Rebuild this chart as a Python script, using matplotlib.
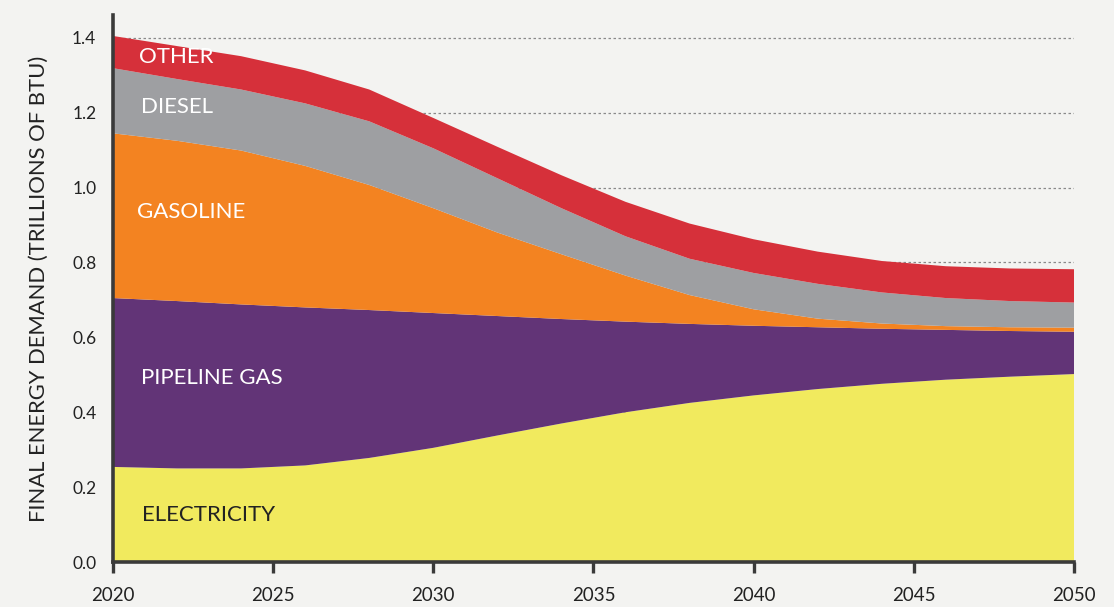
import numpy as np
import matplotlib
matplotlib.use("Agg")
import matplotlib.pyplot as plt

# values (trillions of BTU), one point every 2 years
years = [2020, 2022, 2024, 2026, 2028, 2030, 2032, 2034,
         2036, 2038, 2040, 2042, 2044, 2046, 2048, 2050]
electricity = [0.254, 0.250, 0.250, 0.258, 0.278, 0.305, 0.338, 0.370,
               0.400, 0.425, 0.445, 0.462, 0.476, 0.487, 0.495, 0.502]
pipeline_gas = [0.451, 0.447, 0.438, 0.422, 0.395, 0.360, 0.319, 0.279,
                0.242, 0.211, 0.186, 0.165, 0.147, 0.133, 0.122, 0.113]
gasoline = [0.440, 0.428, 0.411, 0.378, 0.334, 0.280, 0.223, 0.173,
            0.123, 0.077, 0.044, 0.023, 0.014, 0.010, 0.010, 0.011]
diesel = [0.174, 0.165, 0.163, 0.167, 0.170, 0.160, 0.145, 0.123,
          0.105, 0.097, 0.097, 0.093, 0.083, 0.075, 0.070, 0.067]
other = [0.086, 0.088, 0.089, 0.088, 0.085, 0.081, 0.084, 0.088,
         0.092, 0.094, 0.090, 0.086, 0.084, 0.085, 0.087, 0.089]

labels = ["ELECTRICITY", "PIPELINE GAS", "GASOLINE", "DIESEL", "OTHER"]
colors = ["#F1EA5E", "#623477", "#F38321", "#9E9FA2", "#D6303A"]
label_colors = ["#222222", "white", "white", "white", "white"]
# where each label sits (year, value)
label_pos = [(2020.92, 0.126), (2020.88, 0.492), (2020.75, 0.935),
             (2020.88, 1.216), (2020.81, 1.349)]

bg = "#F3F3F1"
plt.rcParams['font.family'] = ['Lato', 'DejaVu Sans']

fig = plt.figure(figsize=(11.14, 6.07), dpi=100, facecolor=bg)
ax = fig.add_axes([0.1014, 0.0741, 0.8627, 0.9012], facecolor=bg)

series = [electricity, pipeline_gas, gasoline, diesel, other]
ax.stackplot(years, *series, colors=colors, linewidth=0, zorder=2)

for lab, (lx, ly), lc in zip(labels, label_pos, label_colors):
    ax.text(lx, ly, lab, color=lc, fontsize=16, va='center', ha='left', zorder=3)

ax.set_xlim(2020, 2050)
ax.set_ylim(0, 1.461)
ax.set_xticks(range(2020, 2051, 5))
ax.set_yticks(np.arange(0, 1.41, 0.2))
ax.set_yticklabels([f"{v:.1f}" for v in np.arange(0, 1.41, 0.2)])

ax.yaxis.grid(True, linestyle=(0, (2, 2)), color='#8a8a8a', linewidth=0.9)
ax.set_axisbelow(True)

for s in ['top', 'right']:
    ax.spines[s].set_visible(False)
for s in ['left', 'bottom']:
    ax.spines[s].set_color('#3a3a3a')
    ax.spines[s].set_linewidth(2.6)
    ax.spines[s].set_zorder(4)

ax.tick_params(axis='y', length=0, pad=12, labelsize=12.5, labelcolor='#222222')
ax.tick_params(axis='x', length=8, width=2.4, color='#3a3a3a', pad=10,
               labelsize=13.5, labelcolor='#222222')

ax.set_ylabel("FINAL ENERGY DEMAND (TRILLIONS OF BTU)", fontsize=15.8,
              color='#222222', labelpad=17)

fig.savefig("out.png", dpi=100, facecolor=bg)
